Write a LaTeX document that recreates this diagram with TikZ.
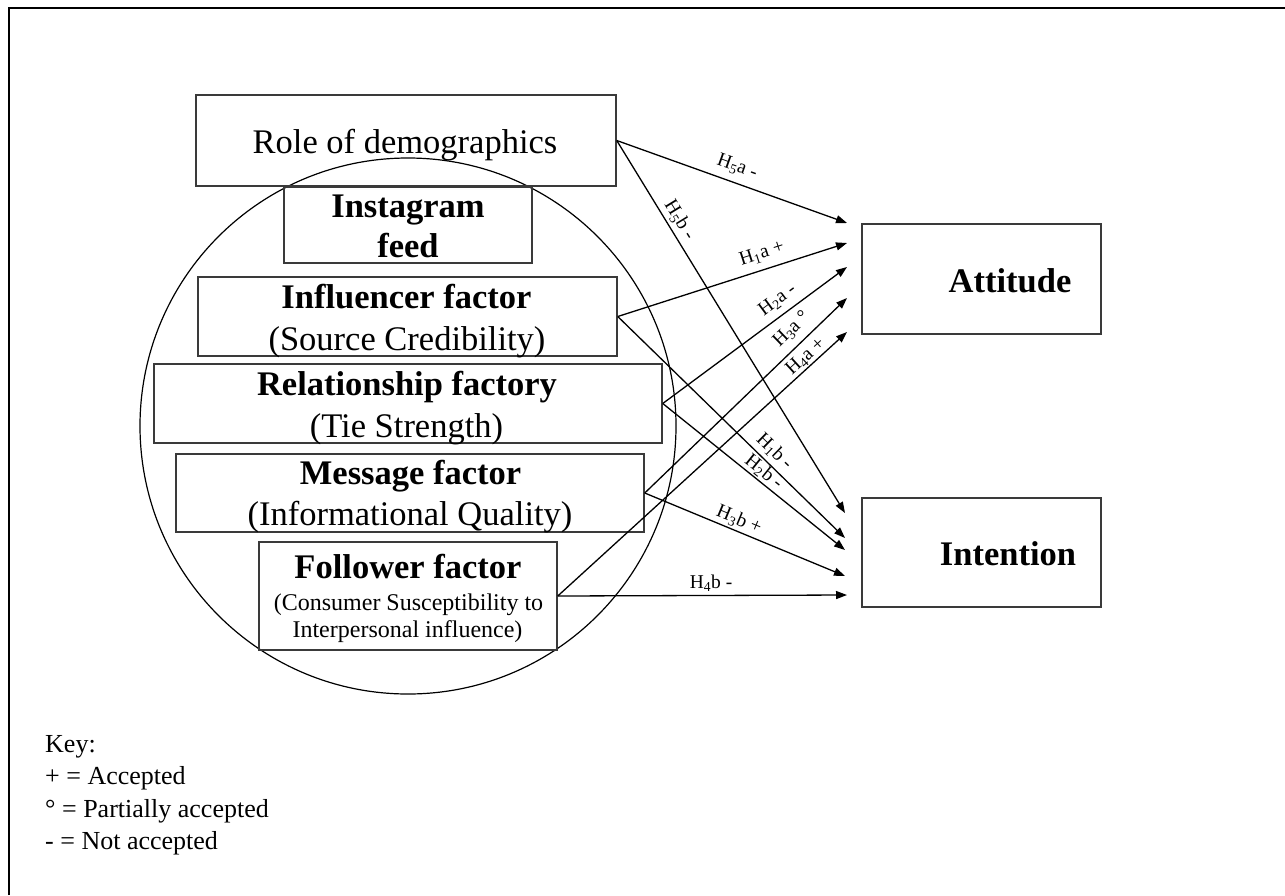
\documentclass[tikz,border=0pt]{standalone}
\usepackage{fontspec}
\setmainfont{Liberation Serif}
\usetikzlibrary{arrows.meta}
\definecolor{edgegray}{HTML}{3A3A3A}
\begin{document}
\begin{tikzpicture}[x=1pt,y=-1pt,
  box/.style={draw=edgegray, line width=1.5pt, inner sep=0pt, rectangle},
  txt/.style={inner sep=0pt, anchor=base, font=\fontsize{34.5}{40}\selectfont},
  txtb/.style={inner sep=0pt, anchor=base, font=\fontsize{34.5}{40}\selectfont\bfseries},
  txts/.style={inner sep=0pt, anchor=base, font=\fontsize{24}{27}\selectfont},
  link/.style={line width=1.3pt, -{Triangle[length=11pt,width=8pt]}},
  hyp/.style={sloped, inner sep=0pt, font=\fontsize{19.5}{22}\selectfont},
  keytext/.style={inner sep=0pt, anchor=base west, font=\fontsize{26}{30}\selectfont}
]
\useasboundingbox (0,0) rectangle (1285,895);

% page frame
\draw[line width=2.2pt] (9,895) -- (9,8) -- (1285,8);

% ring of Instagram factors
\node[draw, circle, line width=1.2pt, minimum size=536pt, inner sep=0pt] (ring) at (408,426) {};

% boxes
\node[box, minimum width=420pt, minimum height=91pt]  (role) at (406,140.5) {};
\node[box, minimum width=248pt, minimum height=76pt]  (feed) at (408,225) {};
\node[box, minimum width=419pt, minimum height=79pt]  (infl) at (407.5,316.5) {};
\node[box, minimum width=508pt, minimum height=79pt]  (rel)  at (408,403.5) {};
\node[box, minimum width=468pt, minimum height=78pt]  (msg)  at (410,493) {};
\node[box, minimum width=298pt, minimum height=108pt] (fol)  at (408,596) {};
\node[box, minimum width=239pt, minimum height=110pt] (att)  at (981.5,279) {};
\node[box, minimum width=239pt, minimum height=109pt] (int)  at (981.5,552.5) {};

% box texts
\node[txt]  (roleT)  at (405,153) {Role of demographics};
\node[txtb] (feedT1) at (408,217) {Instagram};
\node[txtb] (feedT2) at (408,257) {feed};
\node[txtb] (inflT1) at (406.5,308) {Influencer factor};
\node[txt]  (inflT2) at (407,350) {(Source Credibility)};
\node[txtb] (relT1)  at (407,395) {Relationship factory};
\node[txt]  (relT2)  at (406.5,437) {(Tie Strength)};
\node[txtb] (msgT1)  at (410.5,484) {Message factor};
\node[txt]  (msgT2)  at (410,525) {(Informational Quality)};
\node[txtb] (folT1)  at (408,578) {Follower factor};
\node[txts] (folT2)  at (408.5,610) {(Consumer Susceptibility to};
\node[txts] (folT3)  at (407.5,637) {Interpersonal influence)};
\node[txtb] (attT)   at (1010,292) {Attitude};
\node[txtb] (intT)   at (1008,565) {Intention};

% arrow end points in front of the outcome boxes
\coordinate (a1) at (847,223);
\coordinate (a2) at (847,243);
\coordinate (a3) at (847,267);
\coordinate (a4) at (847,298);
\coordinate (a5) at (847,332);
\coordinate (b1) at (845,513);
\coordinate (b2) at (845,538);
\coordinate (b3) at (845,550);
\coordinate (b4) at (845,576);
\coordinate (b5) at (847,595);

% hypothesised paths
\draw[link] (role.east) -- node[hyp, above=7pt, pos=0.50] (h5a) {H\textsubscript{5}a -} (a1);
\draw[link] (role.east) -- node[hyp, above=3pt, pos=0.23] (h5b) {H\textsubscript{5}b -} (b1);
\draw[link] (infl.east) -- node[hyp, above=7pt, pos=0.65] (h1a) {H\textsubscript{1}a +} (a2);
\draw[link] (infl.east) -- node[hyp, above=4pt, pos=0.65] (h1b) {H\textsubscript{1}b -} (b2);
\draw[link] (rel.east)  -- node[hyp, above=6pt, pos=0.67] (h2a) {H\textsubscript{2}a -} (a3);
\draw[link] (rel.east)  -- node[hyp, above=1pt, pos=0.52] (h2b) {H\textsubscript{2}b -} (b3);
\draw[link] (msg.east)  -- node[hyp, above=7pt, pos=0.78] (h3a) {H\textsubscript{3}a °} (a4);
\draw[link] (msg.east)  -- node[hyp, above=2pt, pos=0.45] (h3b) {H\textsubscript{3}b +} (b4);
\draw[link] (fol.east)  -- node[hyp, above=1pt, pos=0.88] (h4a) {H\textsubscript{4}a +} (a5);
\draw[link] (fol.east)  -- node[hyp, above=3pt, pos=0.53] (h4b) {H\textsubscript{4}b -} (b5);

% key
\node[keytext] (k0) at (45,752) {Key:};
\node[keytext] (k1) at (45,784.5) {+ = Accepted};
\node[keytext] (k2) at (45,817) {° = Partially accepted};
\node[keytext] (k3) at (45,849) {- = Not accepted};
\end{tikzpicture}
\end{document}
